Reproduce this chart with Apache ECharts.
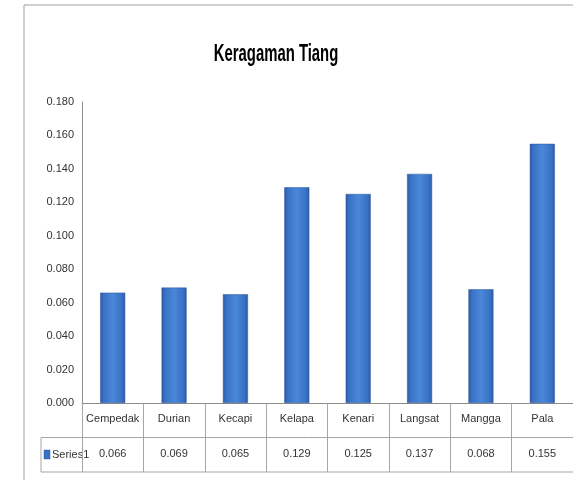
<!DOCTYPE html>
<html>
<head>
<meta charset="utf-8">
<script src="https://cdn.jsdelivr.net/npm/echarts@6/dist/echarts.min.js"></script>
<style>html,body{margin:0;padding:0;background:#fff;}#c{width:573px;height:480px;}</style>
</head>
<body>
<div id="c"></div>
<script>
const chartTitle = 'Keragaman Tiang';
const categories = ['Cempedak', 'Durian', 'Kecapi', 'Kelapa', 'Kenari', 'Langsat', 'Mangga', 'Pala'];
const seriesName = 'Series1';
const values = [0.066, 0.069, 0.065, 0.129, 0.125, 0.137, 0.068, 0.155];
const yTicks = [0, 0.02, 0.04, 0.06, 0.08, 0.10, 0.12, 0.14, 0.16, 0.18];

const FONT = '"Liberation Sans Narrow", "Liberation Sans", Arial, sans-serif';
const chart = echarts.init(document.getElementById('c'), null, {renderer: 'canvas'});
const barGrad = new echarts.graphic.LinearGradient(0, 0, 1, 0, [
  {offset: 0, color: '#2b5ca6'},
  {offset: 0.15, color: '#3a73c6'},
  {offset: 0.5, color: '#4a86d9'},
  {offset: 0.85, color: '#3a73c6'},
  {offset: 1, color: '#2b5ca6'}
]);
chart.setOption({
  animation: false,
  backgroundColor: '#fff',
  grid: {left: 82, right: -2, top: 102, bottom: 77, containLabel: false},
  xAxis: [{
    type: 'category', data: categories, position: 'bottom',
    axisLine: {show: true, lineStyle: {color: '#8c8c8c', width: 1}},
    axisTick: {show: true, interval: 0, alignWithLabel: false, length: 69, lineStyle: {color: '#a6a6a6'}},
    axisLabel: {interval: 0, margin: 10, fontFamily: FONT, fontSize: 11, color: '#333'},
    splitLine: {show: false}
  }, {
    type: 'category', data: categories, position: 'bottom', offset: 34,
    axisLine: {show: false}, axisTick: {show: false},
    axisLabel: {interval: 0, margin: 11, fontFamily: FONT, fontSize: 11, color: '#333',
      formatter: (v, i) => values[i].toFixed(3)}
  }],
  yAxis: {
    type: 'value', min: yTicks[0], max: yTicks[yTicks.length - 1], interval: 0.02,
    axisLine: {show: true, lineStyle: {color: '#8c8c8c'}},
    axisTick: {show: false},
    splitLine: {show: false},
    axisLabel: {margin: 8, fontFamily: FONT, fontSize: 11, color: '#333',
      formatter: v => v.toFixed(3)}
  },
  series: [{
    name: seriesName, type: 'bar', data: values, barWidth: 25,
    itemStyle: {color: barGrad, borderColor: '#2a5596', borderWidth: 0.5}
  }],
  graphic: [
    {type: 'rect', z: 0, shape: {x: 24, y: 5, width: 560, height: 490}, style: {fill: 'none', stroke: '#a0a0a0', lineWidth: 1}},
    {type: 'text', x: 276, y: 54, scaleX: 0.62, style: {x: 0, y: 0, text: chartTitle, fontFamily: '"Liberation Sans", Arial, sans-serif', fontSize: 24, fontWeight: 'bold', fill: '#000', align: 'center', verticalAlign: 'middle'}},
    {type: 'line', shape: {x1: 41, y1: 437.5, x2: 575, y2: 437.5}, style: {stroke: '#a6a6a6', lineWidth: 1}},
    {type: 'line', shape: {x1: 41, y1: 472, x2: 575, y2: 472}, style: {stroke: '#a6a6a6', lineWidth: 1}},
    {type: 'line', shape: {x1: 41, y1: 437.5, x2: 41, y2: 472}, style: {stroke: '#a6a6a6', lineWidth: 1}},
    {type: 'rect', shape: {x: 44, y: 450, width: 6, height: 9}, style: {fill: '#3a73c6', stroke: '#2b5ca6', lineWidth: 0.5}},
    {type: 'text', style: {x: 52, y: 455, text: seriesName, fontFamily: FONT, fontSize: 11, fill: '#333', verticalAlign: 'middle'}}
  ]
});
</script>
</body>
</html>
